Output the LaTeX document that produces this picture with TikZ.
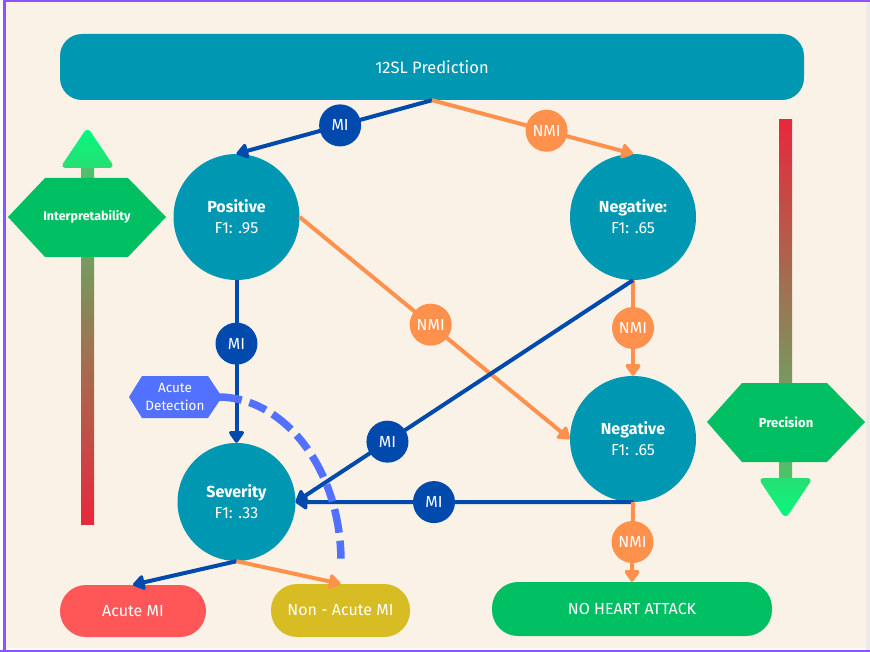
\documentclass[tikz,border=0pt]{standalone}
\usepackage{fontspec}
\setmainfont{Fira Sans}
\usetikzlibrary{arrows.meta,shapes.geometric}
\definecolor{bgcream}{HTML}{FAF2E6}
\definecolor{frame}{HTML}{8C52FF}
\definecolor{teal}{HTML}{0097B2}
\definecolor{miblue}{HTML}{004AAD}
\definecolor{nmiorange}{HTML}{FF914D}
\definecolor{gr}{HTML}{00BF63}
\definecolor{rd}{HTML}{FF5757}
\definecolor{yl}{HTML}{D8BC24}
\definecolor{acblue}{HTML}{5271FF}
\definecolor{brgreen}{HTML}{05FA7E}
\definecolor{midgreen}{HTML}{26DF72}
\definecolor{bargreen}{HTML}{4CC46C}
\definecolor{barred}{HTML}{E8283C}
\tikzset{
  circ/.style={circle, fill=teal, text=white, minimum size=126pt, inner sep=0pt, align=center, font=\fontsize{16}{21}\selectfont},
  milab/.style={circle, fill=miblue, text=white, minimum size=42pt, inner sep=0pt, font=\fontsize{16}{18}\selectfont},
  nmilab/.style={circle, fill=nmiorange, text=white, minimum size=42pt, inner sep=0pt, font=\fontsize{16}{18}\selectfont},
  mi/.style={draw=miblue, line width=4pt, -{Triangle[length=13pt,width=17pt,round]}},
  nmi/.style={draw=nmiorange, line width=4pt, -{Triangle[length=13pt,width=17pt,round]}},
  outbox/.style={rounded corners=26pt, text=white, inner sep=0pt, font=\fontsize{16}{18}\selectfont},
  hextext/.style={text=white, inner sep=0pt, align=center}
}
\begin{document}
\begin{tikzpicture}[x=1pt,y=-1pt]
\useasboundingbox (0,0) rectangle (870,652);
% frame
\fill[white] (0,0) rectangle (870,652);
\fill[bgcream] (5,2) rectangle (866,648);
\fill[frame] (3,0) rectangle (6,652);
\fill[frame] (3,0) rectangle (870,2);
\fill[frame] (0,650) rectangle (870,652);
\fill[black!8] (866,2) rectangle (870,650);

% left gradient arrow (interpretability)
\shade[top color=bargreen, bottom color=barred] (81,165) rectangle (94,524);
\shade[top color=brgreen, bottom color=midgreen, rounded corners=6pt] (87.5,127) -- (115,168) -- (60,168) -- cycle;
\fill[gr] (8,217) -- (45,178) -- (128,178) -- (166,217) -- (128,257) -- (45,257) -- cycle;
\node[hextext, font=\fontsize{12.5}{14}\selectfont\bfseries] (interp) at (87,217) {Interpretability};

% right gradient arrow (precision)
\shade[top color=barred, bottom color=bargreen] (779,120) rectangle (792,480);
\shade[top color=midgreen, bottom color=brgreen, rounded corners=6pt] (758,478) -- (813,478) -- (785.5,519) -- cycle;
\fill[gr] (707,422) -- (742,383) -- (827,383) -- (865,422) -- (827,462) -- (742,462) -- cycle;
\node[hextext, font=\fontsize{13}{15}\selectfont\bfseries] (prec) at (786,422) {Precision};

% top bar
\node[fill=teal, rounded corners=22pt, minimum width=744pt, minimum height=66pt, text=white, font=\fontsize{16.5}{18}\selectfont] (pred) at (432,67) {12SL Prediction};

% circles
\node[circ] (pos) at (236.5,217) {\textbf{Positive}\\F1: .95};
\node[circ] (neg) at (633,217) {\textbf{Negative:}\\F1: .65};
\node[circ] (neg2) at (633,439) {\textbf{Negative}\\F1: .65};
\node[circ, minimum size=118pt] (sev) at (236.5,502) {\textbf{Severity}\\F1: .33};

% outcome boxes
\node[outbox, fill=rd, minimum width=146pt, minimum height=52pt] (acute) at (133,611) {Acute MI};
\node[outbox, fill=yl, minimum width=139pt, minimum height=53pt] (nonacute) at (340.5,610.5) {Non - Acute MI};
\node[outbox, fill=gr, minimum width=280pt, minimum height=54pt] (nha) at (632,609) {NO HEART ATTACK};

% connectors
\draw[mi] (pred.south) -- node[milab, pos=0.47] {MI} (pos.north);
\draw[nmi] (pred.south) -- node[nmilab, pos=0.57] {NMI} (neg.north);
\draw[nmi] (pos.east) -- node[nmilab, pos=0.485] {NMI} (neg2.west);
\draw[mi] (pos.south) -- node[milab, pos=0.39] {MI} (sev.north);
\draw[nmi] (neg.south) -- node[nmilab, pos=0.5] {NMI} (neg2.north);
\draw[mi] (neg.south) -- node[milab, pos=0.728] {MI} (sev.east);
\draw[mi] (neg2.south) -- node[milab, pos=0.59] {MI} (sev.east);
\draw[nmi] (neg2.south) -- node[nmilab, pos=0.5] {NMI} (nha.north);
\draw[mi] (sev.south) -- (acute.north);
\draw[nmi] (sev.south) -- (nonacute.north);

% acute detection
\fill[acblue] (129,397) -- (142,376) -- (208,376) -- (222,397) -- (208,418) -- (142,418) -- cycle;
\node[hextext, font=\fontsize{13.5}{18}\selectfont] (acdet) at (175,397) {Acute\\Detection};
\coordinate (arcend) at (341,562);
\draw[acblue, line width=7.5pt, dash pattern=on 24pt off 8pt on 18pt off 8pt] (218,397) .. controls (285,397) and (341,470) .. (arcend);
\end{tikzpicture}
\end{document}
